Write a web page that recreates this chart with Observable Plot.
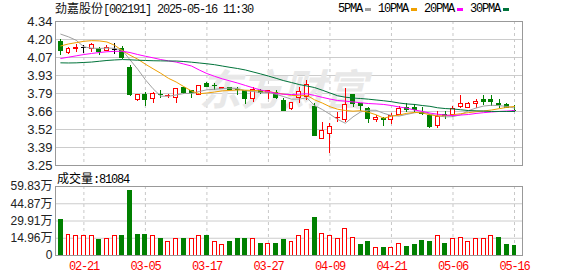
<!DOCTYPE html>
<html><head><meta charset="utf-8">
<script src="https://cdn.jsdelivr.net/npm/d3@7"></script>
<script src="https://cdn.jsdelivr.net/npm/@observablehq/plot@0.6"></script>
<style>
body{margin:0;background:#fff;}
#wrap{position:relative;width:578px;height:276px;overflow:hidden;background:#fff;}
.mono{font-family:"Liberation Mono",monospace;font-size:12px;letter-spacing:-1.2px;}
.cjk{font-family:"Noto Sans CJK SC",sans-serif;font-size:12px;letter-spacing:0;}
#title{position:absolute;left:55px;top:1px;line-height:14px;color:#111;white-space:nowrap;}
#legend{position:absolute;left:338px;top:2px;line-height:14px;display:flex;align-items:center;white-space:nowrap;color:#000;}
#legend .sw{display:inline-block;width:6px;height:3px;margin:0 7px 0 3px;}
#vlabel{position:absolute;left:57px;top:171px;line-height:14px;color:#000;white-space:nowrap;}
#price{position:absolute;left:0;top:0;}
#vol{position:absolute;left:0;top:170px;}
#vol svg g[aria-label^="x-axis"] text{fill:#ff0000;font-family:"Liberation Mono",monospace;font-size:12px;letter-spacing:-1.2px;}
</style>
</head><body>
<div id="wrap">
  <div id="price"></div>
  <div id="vol"></div>
  <div id="title"></div>
  <div id="legend"></div>
  <div id="vlabel"></div>
</div>
<script>
// ---- data ----
const stockName = "劲嘉股份";
const stockInfo = "[002191] 2025-05-16 11:30";
const volLabelName = "成交量";
const volLabelValue = ":81084";

const dates = ["02-18","02-19","02-20","02-21","02-24","02-25","02-26","02-27","02-28","03-03",
  "03-04","03-05","03-06","03-07","03-10","03-11","03-12","03-13","03-14","03-17",
  "03-18","03-19","03-20","03-21","03-24","03-25","03-26","03-27","03-28","03-31",
  "04-01","04-02","04-03","04-07","04-08","04-09","04-10","04-11","04-14","04-15",
  "04-16","04-17","04-18","04-21","04-22","04-23","04-24","04-25","04-28","04-29",
  "04-30","05-06","05-07","05-08","05-09","05-12","05-13","05-14","05-15","05-16"];

const open = [4.183,4.10,4.135,4.14,4.135,4.13,4.115,4.13,4.135,3.99,
  3.746,3.787,3.75,3.785,3.775,3.762,3.835,3.812,3.787,3.868,
  3.853,3.827,3.835,3.825,3.812,3.755,3.812,3.797,3.797,3.737,
  3.679,3.762,3.767,3.691,3.452,3.485,3.608,3.596,3.78,3.712,
  3.679,3.598,3.603,3.596,3.632,3.687,3.687,3.644,3.628,3.549,
  3.632,3.631,3.691,3.687,3.717,3.747,3.747,3.712,3.71,3.664];
const high = [4.20,4.146,4.163,4.155,4.173,4.14,4.156,4.173,4.148,4.005,
  3.787,3.803,3.803,3.82,3.79,3.83,3.84,3.818,3.848,3.878,
  3.868,3.843,3.844,3.843,3.818,3.843,3.829,3.818,3.818,3.755,
  3.727,3.837,3.89,3.717,3.578,3.565,3.649,3.83,3.787,3.723,
  3.687,3.628,3.616,3.644,3.697,3.717,3.71,3.689,3.636,3.661,
  3.659,3.697,3.78,3.725,3.75,3.78,3.78,3.75,3.717,3.704];
const low = [4.086,4.092,4.108,4.095,4.105,4.085,4.11,4.09,4.055,3.77,
  3.732,3.694,3.72,3.757,3.757,3.723,3.787,3.755,3.787,3.837,
  3.818,3.825,3.814,3.78,3.712,3.729,3.791,3.747,3.75,3.659,
  3.666,3.72,3.742,3.473,3.45,3.343,3.573,3.578,3.687,3.659,
  3.57,3.578,3.545,3.56,3.625,3.649,3.653,3.628,3.532,3.53,
  3.596,3.616,3.684,3.684,3.684,3.704,3.697,3.684,3.684,3.653];
const close = [4.115,4.13,4.14,4.14,4.16,4.11,4.143,4.13,4.06,3.782,
  3.78,3.744,3.79,3.78,3.778,3.83,3.797,3.797,3.848,3.843,
  3.848,3.838,3.818,3.821,3.755,3.818,3.797,3.814,3.762,3.666,
  3.722,3.803,3.856,3.475,3.513,3.541,3.611,3.71,3.714,3.704,
  3.603,3.608,3.598,3.628,3.681,3.67,3.669,3.638,3.538,3.616,
  3.627,3.679,3.712,3.712,3.729,3.729,3.729,3.707,3.689,3.661];

// volume in 万 (10k)
const volume = [31.2,18.2,16.5,17.0,17.0,13.3,14.7,16.5,17.3,55.5,
  18.2,18.2,16.5,14.2,11.3,13.9,14.2,13.9,17.0,16.5,
  12.1,9.5,12.1,14.7,14.7,14.7,10.4,10.4,10.4,13.3,
  11.3,17.0,22.5,32.9,18.8,16.5,14.7,23.4,15.6,9.5,
  12.1,6.9,6.9,6.1,10.1,7.8,8.7,13.0,11.3,17.0,
  10.4,14.7,15.6,12.1,14.7,13.9,17.0,15.6,9.5,8.1];
// volume bar direction: u = red hollow, d = green filled
const volDir = ["d","u","u","u","u","d","u","u","d","d",
  "d","d","u","d","u","u","d","u","u","d",
  "u","u","d","d","d","u","d","u","d","d",
  "u","u","u","d","u","u","u","u","u","d",
  "d","u","d","u","u","d","d","d","d","u",
  "d","u","u","u","u","u","u","d","d","d"];

const ma5 = [4.244,4.224,4.198,4.148,4.138,4.136,4.139,4.137,4.122,4.05,
  3.979,3.899,3.831,3.775,3.774,3.784,3.795,3.796,3.81,3.823,
  3.827,3.832,3.836,3.832,3.816,3.81,3.802,3.801,3.789,3.771,
  3.752,3.753,3.762,3.704,3.674,3.638,3.599,3.57,3.618,3.656,
  3.668,3.668,3.645,3.628,3.624,3.637,3.649,3.657,3.639,3.626,
  3.618,3.62,3.634,3.665,3.685,3.70,3.706,3.703,3.697,3.685];
const ma10 = [4.155,4.17,4.18,4.19,4.195,4.193,4.185,4.16,4.12,4.085,
  4.055,4.017,3.982,3.948,3.91,3.882,3.847,3.814,3.793,3.799,
  3.806,3.815,3.818,3.822,3.82,3.818,3.815,3.81,3.80,3.79,
  3.781,3.778,3.781,3.747,3.723,3.695,3.676,3.666,3.661,3.665,
  3.653,3.634,3.608,3.623,3.632,3.645,3.652,3.648,3.634,3.625,
  3.627,3.634,3.642,3.65,3.657,3.663,3.67,3.68,3.69,3.697];
const ma20 = [4.06,4.07,4.08,4.09,4.098,4.105,4.111,4.114,4.115,4.105,
  4.09,4.077,4.065,4.052,4.042,4.033,4.018,4.003,3.973,3.946,
  3.925,3.906,3.89,3.874,3.856,3.838,3.821,3.81,3.796,3.789,
  3.787,3.79,3.793,3.78,3.766,3.753,3.742,3.737,3.731,3.725,
  3.719,3.716,3.712,3.704,3.693,3.684,3.67,3.66,3.647,3.638,
  3.632,3.628,3.632,3.636,3.644,3.65,3.655,3.659,3.662,3.666];
const ma30 = [4.027,4.026,4.027,4.03,4.033,4.039,4.045,4.049,4.052,4.05,
  4.047,4.045,4.043,4.042,4.041,4.041,4.037,4.032,4.026,4.02,
  4.013,4.003,3.993,3.984,3.973,3.958,3.943,3.927,3.91,3.892,
  3.878,3.863,3.852,3.84,3.82,3.799,3.778,3.767,3.761,3.757,
  3.752,3.746,3.74,3.733,3.723,3.716,3.712,3.704,3.698,3.687,
  3.681,3.678,3.672,3.666,3.664,3.662,3.659,3.659,3.659,3.659];

const maNames = ["5PMA","10PMA","20PMA","30PMA"];
const maColors = ["#a0a0a0","#f0a000","#ff00ff","#00733a"];

const yTickLabels = ["3.25","3.39","3.52","3.66","3.79","3.93","4.07","4.20","4.34"];
const volTickLabels = ["0","14.96万","29.91万","44.87万","59.83万"];
const xTickLabels = ["02-21","03-05","03-17","03-27","04-09","04-21","05-06","05-16"];
const watermark = "东方财富";

// ---- build ----
const RED = "#ff0000", GREEN = "#008000", BLACK = "#000000";
const rows = dates.map((d, i) => ({i, date: d, o: open[i], h: high[i], l: low[i], c: close[i],
  v: volume[i], dir: volDir[i], ma5: ma5[i], ma10: ma10[i], ma20: ma20[i], ma30: ma30[i]}));
const candleColor = d => d.c > d.o ? RED : d.c < d.o ? GREEN : BLACK;

const yMin = +yTickLabels[0], yMax = +yTickLabels[yTickLabels.length - 1];
const yTicks = yTickLabels.map((_, k) => yMin + k * (yMax - yMin) / (yTickLabels.length - 1));
const volTicks = volTickLabels.map(s => parseFloat(s));
const volMax = volTicks[volTicks.length - 1];
const xTickIdx = xTickLabels.map(l => dates.indexOf(l));
const xDomain = [-0.69, dates.length + 0.04];

const fontStack = "'Liberation Sans','Noto Sans CJK SC',sans-serif";
const maKeys = ["ma5","ma10","ma20","ma30"];

const price = Plot.plot({
  width: 578, height: 170,
  marginLeft: 55, marginRight: 56, marginTop: 21, marginBottom: 5,
  style: {fontFamily: fontStack, fontSize: "13px", color: "#222", background: "transparent", overflow: "visible"},
  x: {domain: xDomain, axis: null},
  y: {domain: [yMin, yMax], ticks: yTicks, tickFormat: d => yTickLabels[yTicks.indexOf(d)], tickSize: 0, tickPadding: 3, label: null},
  marks: [
    Plot.ruleY(yTicks, {stroke: "#cccccc"}),
    Plot.ruleX(xTickIdx, {stroke: "#c8c8c8", strokeDasharray: "3,3"}),
    Plot.text([watermark], {frameAnchor: "middle", dx: -6, dy: -2, fontSize: 42, fontWeight: "bold", fontStyle: "italic",
      fill: "#e8e8e8", fontFamily: "'Noto Sans CJK SC',sans-serif"}),
    Plot.ruleX(rows, {x: "i", y1: "l", y2: "h", stroke: candleColor, shapeRendering: "crispEdges"}),
    Plot.rect(rows, {x1: d => d.i - 0.5, x2: d => d.i + 0.5,
      y1: d => Math.min(d.o, d.c), y2: d => Math.max(d.o, d.c),
      insetLeft: 1.85, insetRight: 1.85,
      fill: d => d.c > d.o ? "#ffffff" : candleColor(d), stroke: candleColor, shapeRendering: "crispEdges"}),
    Plot.ruleY(rows.filter(d => d.o === d.c), {y: "c", x1: d => d.i - 0.5, x2: d => d.i + 0.5,
      insetLeft: 1.35, insetRight: 1.35, stroke: BLACK, shapeRendering: "crispEdges"}),
    ...maKeys.map((k, j) => Plot.line(rows, {x: "i", y: k, stroke: maColors[j], strokeWidth: 1})),
    Plot.frame({stroke: "#999999"})
  ]
});
document.getElementById("price").appendChild(price);

const vol = Plot.plot({
  width: 578, height: 106,
  marginLeft: 55, marginRight: 56, marginTop: 16, marginBottom: 21,
  style: {fontFamily: fontStack, fontSize: "12px", color: "#222", background: "transparent", overflow: "visible"},
  x: {domain: xDomain, ticks: xTickIdx, tickFormat: i => dates[i], tickSize: 0, tickPadding: 6, label: null},
  y: {domain: [0, volMax], ticks: volTicks, tickFormat: d => volTickLabels[volTicks.indexOf(d)], tickSize: 0, tickPadding: 3, label: null},
  marks: [
    Plot.ruleY(volTicks, {stroke: "#cccccc"}),
    Plot.ruleX(xTickIdx, {stroke: "#c8c8c8", strokeDasharray: "3,3"}),
    Plot.rect(rows, {x1: d => d.i - 0.5, x2: d => d.i + 0.5, y1: 0, y2: "v",
      insetLeft: 1.85, insetRight: 1.85,
      fill: d => d.dir === "u" ? "#ffffff" : GREEN,
      stroke: d => d.dir === "u" ? RED : GREEN, shapeRendering: "crispEdges"}),
    Plot.frame({stroke: "#999999"})
  ]
});
document.getElementById("vol").appendChild(vol);

// title, legend, volume label
document.getElementById("title").innerHTML =
  `<span class="cjk">${stockName}</span><span class="mono">${stockInfo}</span>`;
document.getElementById("legend").innerHTML = maNames.map((n, j) =>
  `<span class="mono">${n}</span><span class="sw" style="background:${maColors[j]}"></span>`).join("");
document.getElementById("vlabel").innerHTML =
  `<span class="cjk">${volLabelName}</span><span class="mono">${volLabelValue}</span>`;
</script>
</body></html>
